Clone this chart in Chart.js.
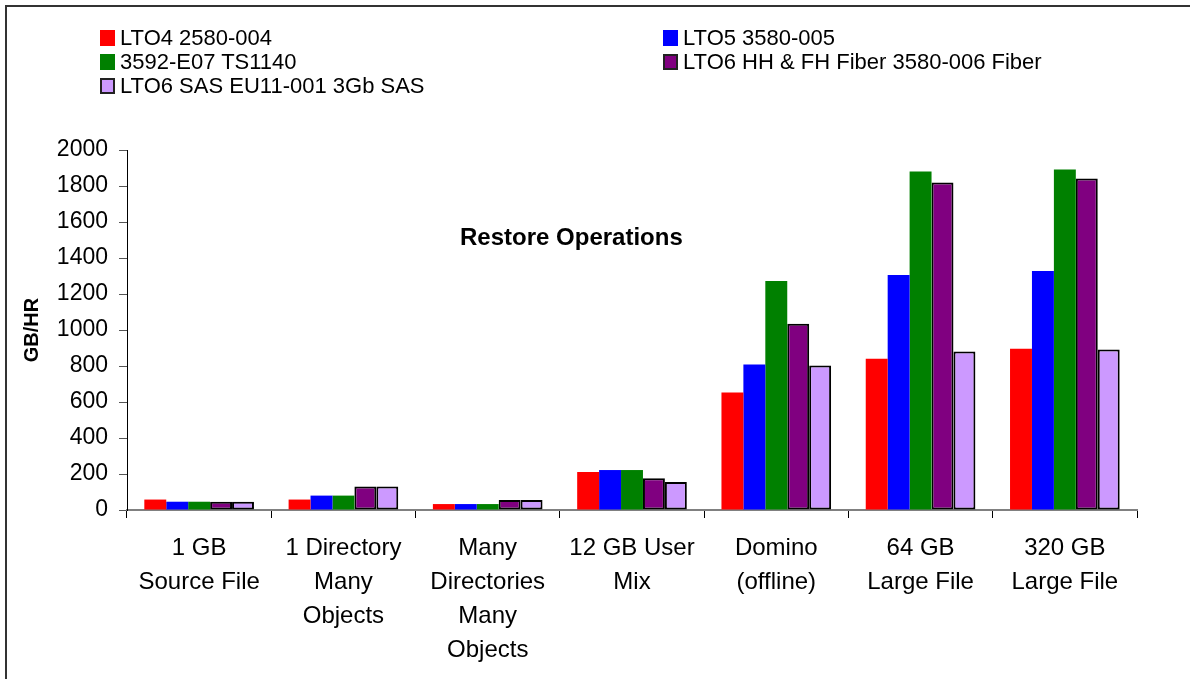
<!DOCTYPE html>
<html>
<head>
<meta charset="utf-8">
<script src="https://cdn.jsdelivr.net/npm/chart.js@4.4.0/dist/chart.umd.min.js"></script>
<style>
  body { margin: 0; background: #fff; font-family: "Liberation Sans", Arial, sans-serif; }
  #wrap { position: relative; width: 1190px; height: 679px; overflow: hidden; }
  #frame { position: absolute; left: 5px; top: 5px; width: 1200px; height: 700px; border: 2px solid #333; }
  #chart { position: absolute; left: 0; top: 0; }
  .leg { position: absolute; font-size: 22px; color: #000; white-space: nowrap; line-height: 24px; }
  .leg span.box { display: inline-block; width: 15px; height: 16px; margin-right: 5px; vertical-align: -1px; box-sizing: border-box; }
</style>
</head>
<body>
<div id="wrap">
  <div id="frame"></div>
  <canvas id="chart" width="1190" height="679"></canvas>
  <div id="legend"></div>
</div>
<script>
// categories (x axis)
const categories = [
  ["1 GB", "Source File"],
  ["1 Directory", "Many", "Objects"],
  ["Many", "Directories", "Many", "Objects"],
  ["12 GB User", "Mix"],
  ["Domino", "(offline)"],
  ["64 GB", "Large File"],
  ["320 GB", "Large File"]
];

// series names
const seriesNames = [
  "LTO4 2580-004",
  "LTO5 3580-005",
  "3592-E07 TS1140",
  "LTO6 HH & FH Fiber 3580-006 Fiber",
  "LTO6 SAS EU11-001 3Gb SAS"
];

// GB/HR values
const lto4 = [58, 58, 33, 211, 653, 840, 896];
const lto5 = [46, 80, 33, 222, 809, 1305, 1328];
const ts1140 = [46, 80, 33, 222, 1272, 1880, 1891];
const lto6Fiber = [46, 131, 55, 177, 1035, 1820, 1842];
const lto6Sas = [46, 131, 55, 155, 803, 881, 891];

const seriesColors = ["#FF0000", "#0000FF", "#008000", "#800080", "#CC99FF"];
const seriesBorders = [0, 0, 0, 2, 2];

const yTicks = [0, 200, 400, 600, 800, 1000, 1200, 1400, 1600, 1800, 2000];

const allValues = [lto4, lto5, ts1140, lto6Fiber, lto6Sas];

const datasets = allValues.map((vals, i) => ({
  label: seriesNames[i],
  data: vals,
  backgroundColor: seriesColors[i],
  borderColor: "#000",
  borderWidth: seriesBorders[i],
  borderSkipped: false
}));

// legend in two columns like the original
const legendPos = [
  [100, 26], [663, 26],
  [100, 50], [663, 50],
  [100, 74]
];
const legendDiv = document.getElementById("legend");
seriesNames.forEach((name, i) => {
  const el = document.createElement("div");
  el.className = "leg";
  el.style.left = legendPos[i][0] + "px";
  el.style.top = legendPos[i][1] + "px";
  const border = seriesBorders[i] ? "border:2px solid #222;" : "";
  el.innerHTML = '<span class="box" style="background:' + seriesColors[i] + ';' + border + '"></span>' + name.replace("&", "&amp;");
  legendDiv.appendChild(el);
});

const FONT = "'Liberation Sans', Arial, sans-serif";

// title drawn inside the plot area
const innerTitle = {
  id: "innerTitle",
  afterDatasetsDraw(chart) {
    const { ctx, chartArea } = chart;
    ctx.save();
    ctx.font = "bold 24px " + FONT;
    ctx.fillStyle = "#000";
    ctx.textAlign = "center";
    ctx.textBaseline = "middle";
    ctx.fillText("Restore Operations", chartArea.left + (chartArea.right - chartArea.left) * 0.44, chartArea.top + (chartArea.bottom - chartArea.top) * 0.245);
    ctx.restore();
  }
};

new Chart("chart", {
  type: "bar",
  data: { labels: categories, datasets },
  options: {
    responsive: false,
    animation: false,
    layout: { padding: { top: 150, right: 53, bottom: 0, left: 0 } },
    plugins: { legend: { display: false }, tooltip: { enabled: false } },
    datasets: { bar: { categoryPercentage: 0.76, barPercentage: 1.0 } },
    scales: {
      x: {
        grid: { offset: true, drawOnChartArea: false, tickLength: 8, color: "#000", lineWidth: 1 },
        border: { color: "#808080", width: 2 },
        ticks: {
          color: "#000",
          font: { family: FONT, size: 24, lineHeight: 1.42 },
          maxRotation: 0,
          autoSkip: false,
          padding: 13
        },
        afterFit(scale) { scale.height = 169; }
      },
      y: {
        min: 0,
        max: 2000,
        afterBuildTicks(scale) { scale.ticks = yTicks.map(v => ({ value: v })); },
        grid: { drawOnChartArea: false, tickLength: 8, color: "#555" },
        border: { color: "#000", width: 1 },
        ticks: {
          color: "#000",
          font: { family: FONT, size: 23 },
          padding: 11,
          callback: v => String(v)
        },
        title: {
          display: true,
          text: "GB/HR",
          color: "#000",
          font: { family: FONT, size: 20, weight: "bold" },
          padding: { top: 20, bottom: 0 }
        },
        afterFit(scale) { scale.width = 127; }
      }
    }
  },
  plugins: [innerTitle]
});
</script>
</body>
</html>
